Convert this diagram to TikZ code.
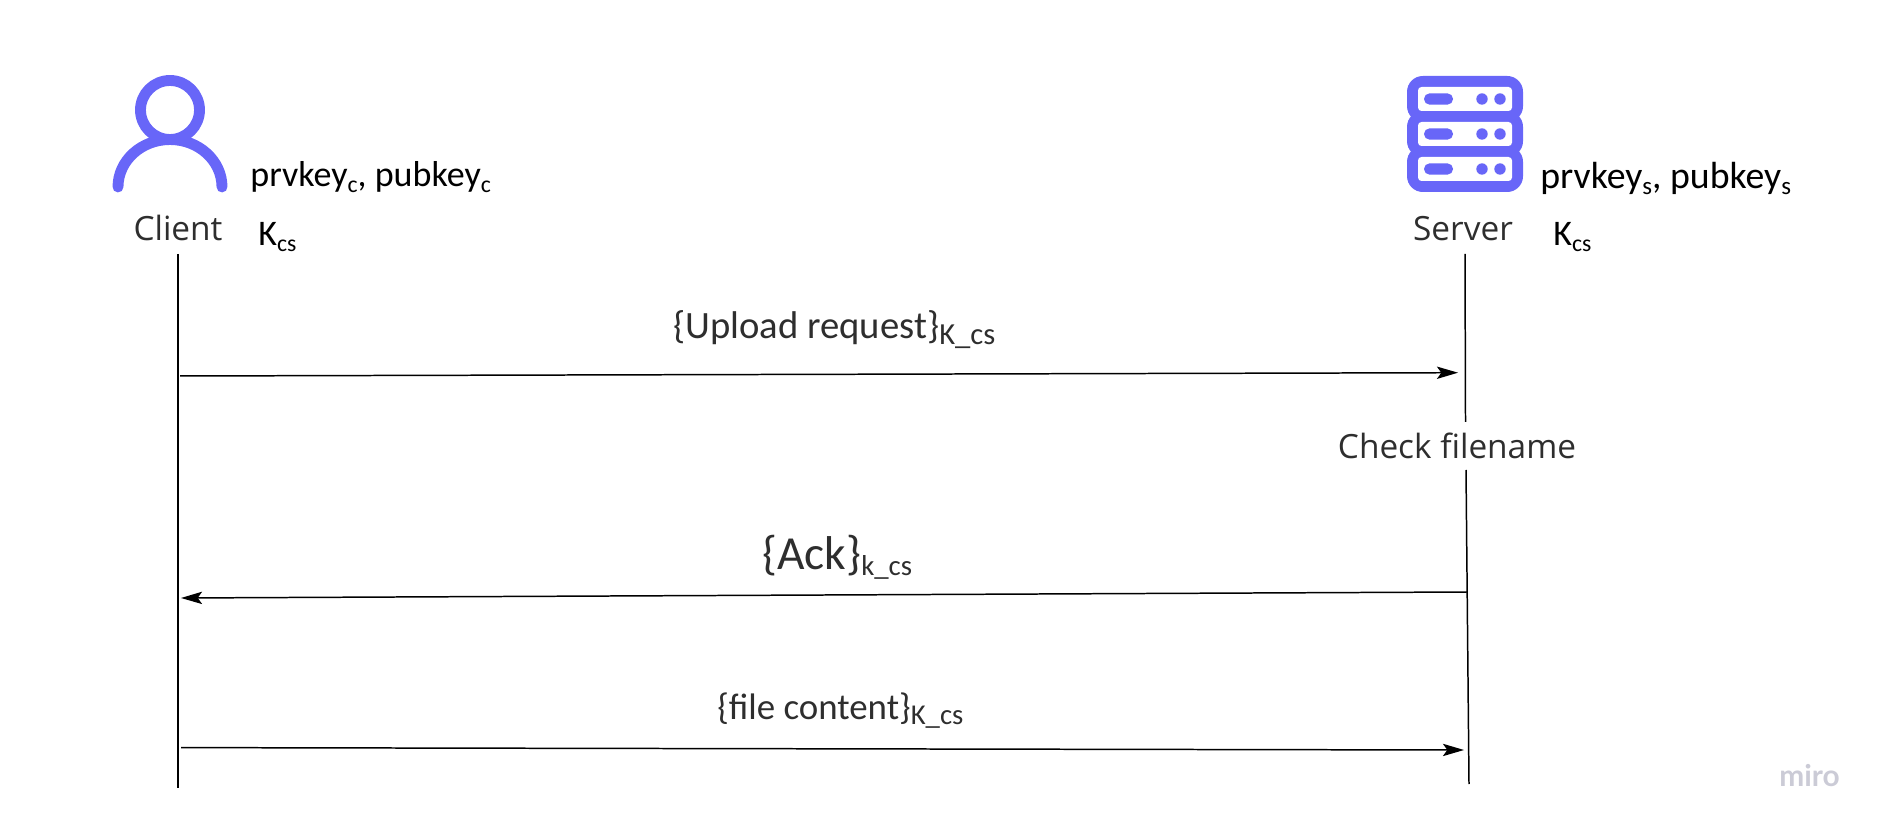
\documentclass[tikz,border=0pt]{standalone}
\usepackage{fontspec}
\setmainfont{Carlito}
\newfontfamily\opensans{Open Sans}
\newfontfamily\lato{Lato}
\usetikzlibrary{arrows.meta}
\definecolor{iconblue}{HTML}{6866F8}
\definecolor{textgray}{HTML}{2E2E2E}
\definecolor{mirogray}{HTML}{CBCBD6}
\newcommand{\lowtext}[1]{\raisebox{-0.3ex}{\scalebox{.66}{#1}}}

\begin{document}
\begin{tikzpicture}[
  x=0.02cm, y=-0.02cm,
  every node/.style={inner sep=0pt, anchor=base},
  actor/.style={font=\opensans\fontsize{19}{24}\selectfont, text=textgray},
  keylabel/.style={font=\fontsize{20.5}{24}\selectfont, text=black, anchor=base west},
  msglabel/.style={font=\fontsize{21}{24}\selectfont, text=textgray, anchor=base west},
  lifeline/.style={draw=black, line width=0.85pt},
  message/.style={draw=black, line width=0.85pt, -{Stealth[length=12pt,width=7pt,inset=2.5pt]}},
  >=Stealth
]
\useasboundingbox (0,0) rectangle (1882,830);

% client icon
\draw[iconblue, line width=6.2pt] (170,110) circle (29.5);
\draw[iconblue, line width=6.2pt, line cap=round] (118,187) arc[start angle=180, end angle=360, x radius=52, y radius=47.5];

% server icon
\foreach \rowy in {99,134,169} {
  \fill[iconblue, rounded corners=9pt] (1407,\rowy-23) rectangle (1523,\rowy+23);
}
\foreach \rowy in {99,134,169} {
  \fill[white, rounded corners=2pt] (1418,\rowy-12) rectangle (1512,\rowy+12);
  \fill[iconblue, rounded corners=3.1pt] (1424,\rowy-5.6) rectangle (1453,\rowy+5.6);
  \fill[iconblue] (1482,\rowy) circle (5.7);
  \fill[iconblue] (1500,\rowy) circle (5.7);
}

\node[actor] (client) at (178,241) {Client};
\node[actor] (server) at (1463,241) {Server};
\node[keylabel] (client-keys) at (250,187) {prvkey\lowtext{c}, pubkey\lowtext{c}};
\node[keylabel, font=\fontsize{21.5}{24}\selectfont] (server-keys) at (1540,189) {prvkey\lowtext{s}, pubkey\lowtext{s}};
\node[keylabel] (client-kcs) at (258,246) {K\lowtext{cs}};
\node[keylabel] (server-kcs) at (1553,246) {K\lowtext{cs}};
\node[actor] (check) at (1457,459) {Check filename};

\coordinate (client-top) at (178,254);
\coordinate (client-bot) at (178,788);
\coordinate (server-top) at (1465,254);
\coordinate (check-top) at (1465.5,422);
\coordinate (check-bot) at (1466,470);
\coordinate (server-bot) at (1469,784);

\draw[lifeline] (client-top) -- (client-bot);
\draw[lifeline] (server-top) -- (check-top);
\draw[lifeline] (check-bot) -- (server-bot);

\coordinate (req-a) at (180,376);
\coordinate (req-b) at (1458,372.7);
\coordinate (ack-a) at (1467,592);
\coordinate (ack-b) at (181,598);
\coordinate (file-a) at (181,747.6);
\coordinate (file-b) at (1464,750);

\draw[message] (req-a) -- (req-b);
\draw[message] (ack-a) -- (ack-b);
\draw[message] (file-a) -- (file-b);

\node[msglabel, font=\fontsize{22}{24}\selectfont] (req-label) at (673,339) {\{Upload request\}\lowtext{\scalebox{1.2}{K\_cs}}};
\node[msglabel, font=\fontsize{27}{32}\selectfont] (ack-label) at (762,569) {\{Ack\}\lowtext{\scalebox{.92}{k\_cs}}};
\node[msglabel] (file-label) at (717,719) {\{file content\}\lowtext{\scalebox{1.18}{K\_cs}}};
\node[anchor=base west, font=\lato\bfseries\fontsize{17}{18}\selectfont, text=mirogray] (miro) at (1779,786) {miro};

\end{tikzpicture}
\end{document}
